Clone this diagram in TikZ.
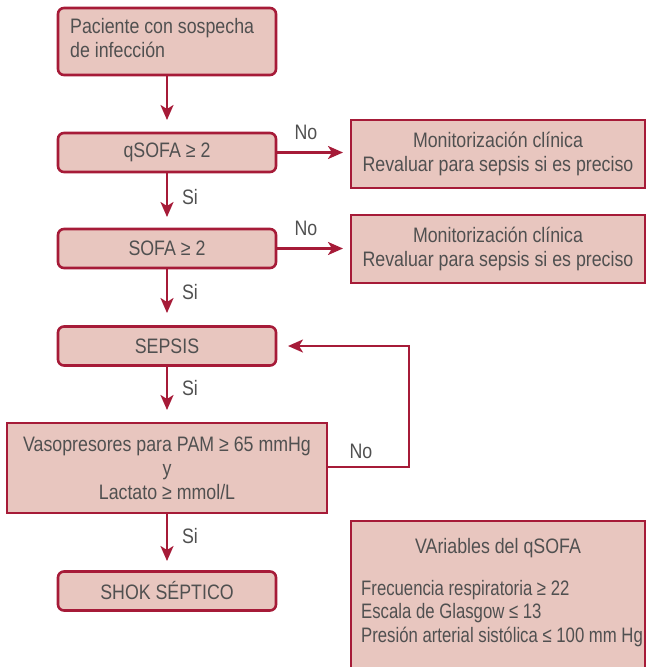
\documentclass[tikz,border=0pt]{standalone}
\usepackage{fontspec}
\setmainfont{Liberation Sans}[FakeStretch=0.85]
\newfontfamily\narrowfont{Liberation Sans}[FakeStretch=0.80]
\usetikzlibrary{arrows.meta}
\definecolor{boxfill}{RGB}{232,198,191}
\definecolor{boxline}{RGB}{166,27,56}
\definecolor{txt}{RGB}{80,80,80}
\begin{document}
\begin{tikzpicture}[x=1bp,y=-1bp,
  every node/.style={text=txt,font=\fontsize{21}{24}\selectfont},
  rbox/.style={draw=boxline,fill=boxfill,line width=2.6bp,rounded corners=6bp,
    minimum width=218bp,minimum height=39bp,inner sep=0pt,align=center},
  sbox/.style={draw=boxline,fill=boxfill,line width=2.6bp,inner sep=0pt,align=center},
  conn/.style={draw=boxline,line width=2.4bp,-{Stealth[length=15bp,width=13bp,inset=4bp]}},
  lbl/.style={inner sep=0pt}
]
\useasboundingbox (0,0) rectangle (649,667);
% left column
\node[rbox,minimum height=67bp] (pac) at (167,41.5) {};
\node[lbl,anchor=north west,align=left] (pact) at (70,18.5) {Paciente con sospecha\\de infección};
\node[rbox] (qs) at (167,152.5) {qSOFA ≥ 2};
\node[rbox] (sofa) at (167,248.5) {SOFA ≥ 2};
\node[rbox] (sep) at (167,346) {SEPSIS};
\node[sbox,minimum width=320bp,minimum height=90bp] (vaso) at (167,468) {Vasopresores para PAM ≥ 65 mmHg\\y\\Lactato ≥ mmol/L};
\node[rbox] (shok) at (167,591) {SHOK SÉPTICO};
% right column
\node[sbox,minimum width=294bp,minimum height=68bp] (mon1) at (498,154) {Monitorización clínica\\Revaluar para sepsis si es preciso};
\node[sbox,minimum width=294bp,minimum height=68bp] (mon2) at (498,249) {Monitorización clínica\\Revaluar para sepsis si es preciso};
\node[sbox,minimum width=294bp,minimum height=150bp] (var) at (498,596) {};
\node[lbl] (vart) at (498,548) {VAriables del qSOFA};
\node[lbl,anchor=north west,align=left,font=\narrowfont\fontsize{21}{23.5}\selectfont] (varl) at (361,580) {Frecuencia respiratoria ≥ 22\\Escala de Glasgow ≤ 13\\Presión arterial sistólica ≤ 100 mm Hg};
% vertical connectors
\coordinate (t1) at (167,120);
\coordinate (t2) at (167,217);
\coordinate (t3) at (167,313);
\coordinate (t4) at (167,410);
\coordinate (t5) at (167,561);
\draw[conn] (pac.south) -- (t1);
\draw[conn] (qs.south) -- (t2);
\draw[conn] (sofa.south) -- (t3);
\draw[conn] (sep.south) -- (t4);
\draw[conn] (vaso.south) -- (t5);
\node[lbl] (si1) at (190,197) {Si};
\node[lbl] (si2) at (190,292) {Si};
\node[lbl] (si3) at (190,388) {Si};
\node[lbl] (si4) at (190,536) {Si};
% horizontal connectors
\coordinate (h1) at (343,152.5);
\coordinate (h2) at (343,248.5);
\draw[conn] (qs.east) -- (h1);
\draw[conn] (sofa.east) -- (h2);
\node[lbl] (no1) at (306,132) {No};
\node[lbl] (no2) at (306,228) {No};
% feedback
\coordinate (fb1) at (409,467);
\coordinate (fb2) at (409,346);
\coordinate (fb3) at (288,346);
\draw[conn] (vaso.east |- fb1) -- (fb1) -- (fb2) -- (fb3);
\node[lbl] (no3) at (361,451) {No};
\end{tikzpicture}
\end{document}
